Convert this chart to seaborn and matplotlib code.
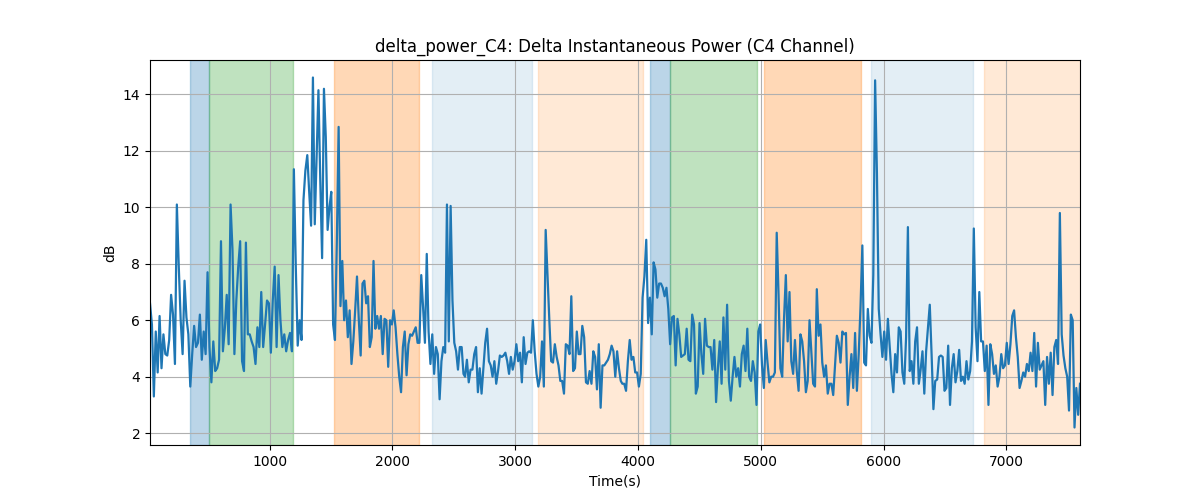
import numpy as np
import pandas as pd
import matplotlib
matplotlib.use('Agg')
import matplotlib.pyplot as plt
import seaborn as sns

# delta power samples in six consecutive time chunks
chunk_bounds = [(26, 1307), (1323, 2579), (2592, 3860), (3873, 5130), (5145, 6421), (6437, 7600)]

power_a = [6.6, 5.85, 3.3, 5.6, 4.15, 6.15, 4.3, 5.5, 4.8, 4.75,
           5.3, 6.9, 6.2, 4.45, 10.1, 7.9, 6.0, 4.8, 7.4, 6.1,
           5.5, 3.65, 4.8, 5.8, 5.05, 5.2, 6.2, 4.6, 5.6, 4.8,
           7.7, 5.05, 3.8, 5.25, 4.2, 4.3, 4.6, 8.8, 4.9, 5.7,
           6.9, 5.15, 10.1, 8.5, 4.8, 6.7, 7.9, 8.8, 4.55, 4.2,
           8.75, 5.5, 5.5, 5.25, 5.05, 4.45, 5.75, 5.05, 7.0, 5.05,
           5.85, 6.7, 6.6, 4.85, 6.7, 7.9, 5.05, 7.6, 6.0, 5.05,
           5.5, 4.9, 5.3, 5.55, 4.9, 11.35, 7.9, 5.1, 6.0, 5.3,
           10.25, 11.3, 11.85]

power_b = [10.5, 9.35, 14.6, 9.4, 11.8, 14.15, 10.95, 8.2, 14.2, 12.5,
           9.2, 10.0, 10.55, 5.85, 5.3, 8.7, 12.85, 6.5, 8.1, 6.0,
           6.7, 5.4, 6.35, 4.45, 5.25, 6.35, 7.55, 6.0, 4.75, 7.3,
           7.4, 6.6, 6.85, 5.05, 5.4, 8.1, 5.7, 6.15, 5.7, 6.15,
           4.8, 6.05, 6.0, 4.35, 6.0, 5.85, 6.35, 5.75, 4.8, 4.0,
           3.45, 5.05, 5.6, 4.05, 5.15, 5.5, 5.45, 5.6, 5.75, 5.2,
           5.2, 7.6, 6.45, 5.2, 8.35, 5.6, 4.45, 5.5, 4.1, 5.05,
           4.8, 3.2, 4.55, 5.05, 4.85, 10.1, 5.25, 10.05, 6.7, 5.2,
           4.9, 4.25, 5.05, 5.05, 4.1]

power_c = [4.0, 4.6, 3.8, 4.25, 4.25, 4.8, 5.05, 3.45, 4.3, 3.4,
           4.3, 5.2, 5.7, 4.55, 4.4, 4.0, 4.55, 3.75, 4.2, 4.75,
           4.7, 4.75, 4.85, 4.55, 4.1, 4.7, 4.25, 4.55, 5.15, 4.55,
           4.85, 3.8, 5.4, 4.45, 4.85, 4.9, 4.85, 6.0, 4.9, 4.1,
           3.65, 4.0, 5.25, 3.65, 9.2, 7.55, 6.0, 4.55, 4.5, 5.15,
           4.7, 4.4, 3.85, 3.85, 3.4, 5.15, 5.1, 4.8, 6.85, 4.2,
           4.3, 5.6, 4.8, 4.8, 5.8, 5.4, 3.8, 3.75, 4.2, 3.75,
           4.9, 4.7, 3.55, 5.15, 2.9, 4.4, 4.4, 4.5, 4.6, 4.8,
           5.1, 4.9, 4.0, 4.9, 4.3, 3.85]

power_d = [3.75, 3.75, 3.5, 4.55, 5.3, 4.6, 4.7, 4.15, 4.15, 3.65,
           4.1, 6.8, 7.55, 8.85, 5.9, 6.8, 5.5, 8.05, 7.8, 6.8,
           7.3, 7.3, 7.15, 6.85, 7.15, 6.4, 5.15, 6.1, 6.15, 4.4,
           6.05, 5.5, 4.7, 4.75, 4.8, 5.7, 4.6, 4.55, 6.2, 5.85,
           3.4, 3.65, 5.9, 4.8, 4.1, 6.05, 5.1, 5.05, 5.05, 4.25,
           5.3, 3.1, 4.3, 5.25, 3.75, 6.1, 4.25, 6.55, 3.85, 3.15,
           4.0, 4.7, 4.0, 4.3, 3.65, 4.8, 5.1, 4.2, 5.7, 4.0,
           3.85, 4.55, 4.15, 3.0, 5.6, 5.85, 4.4, 3.6, 5.3, 4.5,
           3.8, 4.0, 4.0, 4.15, 9.1]

power_e = [6.9, 4.3, 4.0, 6.05, 7.6, 5.25, 7.0, 4.55, 4.1, 5.3,
           4.2, 3.5, 5.5, 5.25, 4.55, 3.45, 3.85, 6.0, 4.9, 3.75,
           3.65, 7.1, 5.45, 5.85, 4.5, 4.0, 4.4, 3.4, 3.75, 3.75,
           3.35, 4.4, 5.45, 5.2, 4.5, 5.6, 5.5, 5.55, 3.0, 4.0,
           4.8, 3.6, 5.55, 3.5, 4.8, 6.5, 8.65, 4.5, 4.4, 6.4,
           5.45, 5.2, 7.6, 14.5, 11.2, 6.4, 5.5, 4.7, 5.6, 4.6,
           6.05, 5.05, 4.1, 3.45, 4.8, 4.15, 5.75, 5.6, 4.15, 3.75,
           5.4, 9.3, 4.2, 4.55, 3.75, 5.25, 5.75, 3.75, 4.25, 4.9,
           3.4, 4.9, 5.75, 6.55, 4.8, 2.85, 3.85]

power_f = [3.9, 4.7, 4.75, 4.7, 3.5, 3.6, 5.1, 3.0, 4.3, 4.8,
           3.8, 4.2, 4.95, 3.85, 4.0, 3.75, 4.55, 3.9, 4.2, 5.25,
           9.25, 5.75, 4.55, 7.0, 5.25, 5.25, 4.2, 5.1, 3.0, 5.15,
           4.8, 4.1, 4.4, 3.65, 4.0, 4.8, 4.3, 4.4, 5.2, 4.45,
           5.15, 6.15, 6.35, 5.4, 4.7, 3.6, 3.85, 4.15, 4.0, 4.45,
           4.2, 4.85, 4.2, 5.55, 3.65, 5.2, 4.25, 4.4, 4.55, 3.0,
           4.7, 3.75, 4.85, 3.35, 5.05, 5.3, 4.45, 9.8, 5.5, 4.75,
           4.3, 4.0, 2.8, 6.2, 6.0, 2.2, 3.6, 2.65, 3.75]

# sleep-stage style shaded intervals
span_starts = [348, 507, 1521, 2320, 3185, 4099, 4262, 5029, 5901, 6815]
span_ends = [507, 1189, 2215, 3134, 4039, 4262, 4969, 5817, 6731, 7620]
span_colors = ['tab:blue', 'tab:green', 'tab:orange', 'tab:blue', 'tab:orange',
               'tab:blue', 'tab:green', 'tab:orange', 'tab:blue', 'tab:orange']
span_alphas = [0.3, 0.3, 0.3, 0.12, 0.17, 0.3, 0.3, 0.3, 0.12, 0.17]

chunks = [power_a, power_b, power_c, power_d, power_e, power_f]
times = np.concatenate([np.linspace(b[0], b[1], len(v)) for b, v in zip(chunk_bounds, chunks)])
power = np.concatenate([np.array(v) for v in chunks])
df = pd.DataFrame({'time': times, 'power': power})

fig, ax = plt.subplots(figsize=(12, 5))

for s, e, c, a in zip(span_starts, span_ends, span_colors, span_alphas):
    ax.axvspan(s, e, color=c, alpha=a)

sns.lineplot(data=df, x='time', y='power', ax=ax, estimator=None,
             color='tab:blue', linewidth=1.6)

ax.set_title('delta_power_C4: Delta Instantaneous Power (C4 Channel)')
ax.set_xlabel('Time(s)')
ax.set_ylabel('dB')
ax.grid(True)
ax.set_xlim(times.min(), times.max())

fig.savefig('out.png', dpi=100)
plt.close(fig)
